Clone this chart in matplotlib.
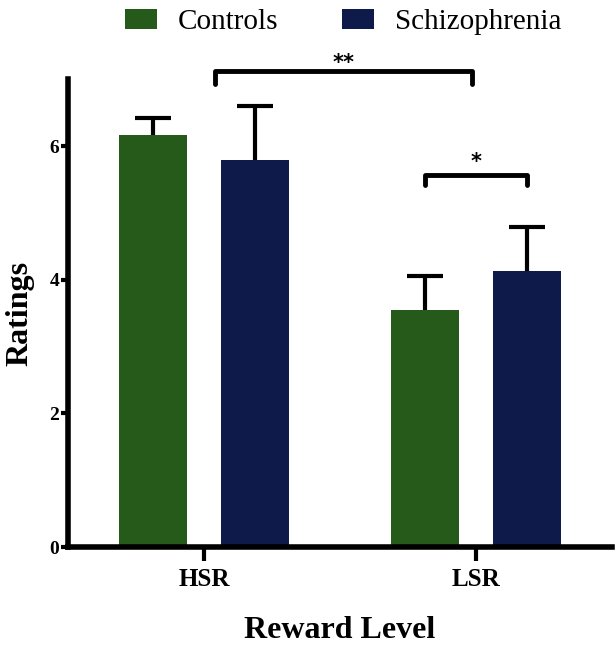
import numpy as np
import matplotlib
matplotlib.use("Agg")
import matplotlib.pyplot as plt

plt.rcParams['font.family'] = ['Liberation Serif', 'DejaVu Serif']

# data
levels = ["HSR", "LSR"]
groups = ["Controls", "Schizophrenia"]
controls = [6.17, 3.54]
controls_err = [0.25, 0.52]
schizo = [5.79, 4.13]
schizo_err = [0.81, 0.66]
colors = ["#265A1A", "#0D1A4A"]

x = np.arange(len(levels))
w = 0.25
off = 0.187

fig = plt.figure(figsize=(6.16, 6.49), dpi=100)
ax = fig.add_axes([0.110, 0.157, 0.884, 0.721])

for xs, vals, errs, col, lab in [(x - off, controls, controls_err, colors[0], groups[0]),
                                 (x + off, schizo, schizo_err, colors[1], groups[1])]:
    ax.bar(xs, vals, w, color=col, label=lab, zorder=2)
    eb = ax.errorbar(xs, vals, yerr=[np.zeros(len(errs)), errs], fmt="none",
                     ecolor="black", elinewidth=3, capsize=13, capthick=3, zorder=1)
    eb[1][0].set_visible(False)  # hide the lower caps

ax.set_xlim(-0.5, 1.5)
ax.set_ylim(0, 7)
ax.set_yticks([0, 2, 4, 6])
ax.set_xticks(x)
ax.set_xticklabels(levels, fontsize=18, fontweight="bold")
for t in ax.get_yticklabels():
    t.set_fontsize(14)
    t.set_fontweight("bold")
ax.tick_params(axis="y", length=5, width=3, pad=1)
ax.tick_params(axis="x", length=10, width=3, pad=5)
for s in ["top", "right"]:
    ax.spines[s].set_visible(False)
for s in ["left", "bottom"]:
    ax.spines[s].set_linewidth(4)

ax.set_xlabel("Reward Level", fontsize=23, fontweight="bold", labelpad=18)
ax.set_ylabel("Ratings", fontsize=23, fontweight="bold", labelpad=11)

# significance brackets
def bracket(x0, x1, y, h, txt, dy):
    ax.plot([x0, x0, x1, x1], [y - h, y, y, y - h], color="black", lw=3.5,
            clip_on=False, solid_capstyle="round")
    ax.annotate(txt, ((x0 + x1) / 2, y), xytext=(0, dy), textcoords="offset points",
                ha="center", va="center", fontsize=15, fontweight="bold",
                family="DejaVu Sans", annotation_clip=False)

bracket(0.04, 0.985, 7.12, 0.19, "**", 6)
bracket(x[1] - off, x[1] + off, 5.56, 0.15, "*", 10)

fig.legend(loc="upper center", bbox_to_anchor=(0.557, 1.027), ncol=2,
           frameon=False, fontsize=21, handlelength=1.1, handleheight=0.7,
           columnspacing=2.2, handletextpad=0.7)

fig.savefig("out.png", dpi=100)
